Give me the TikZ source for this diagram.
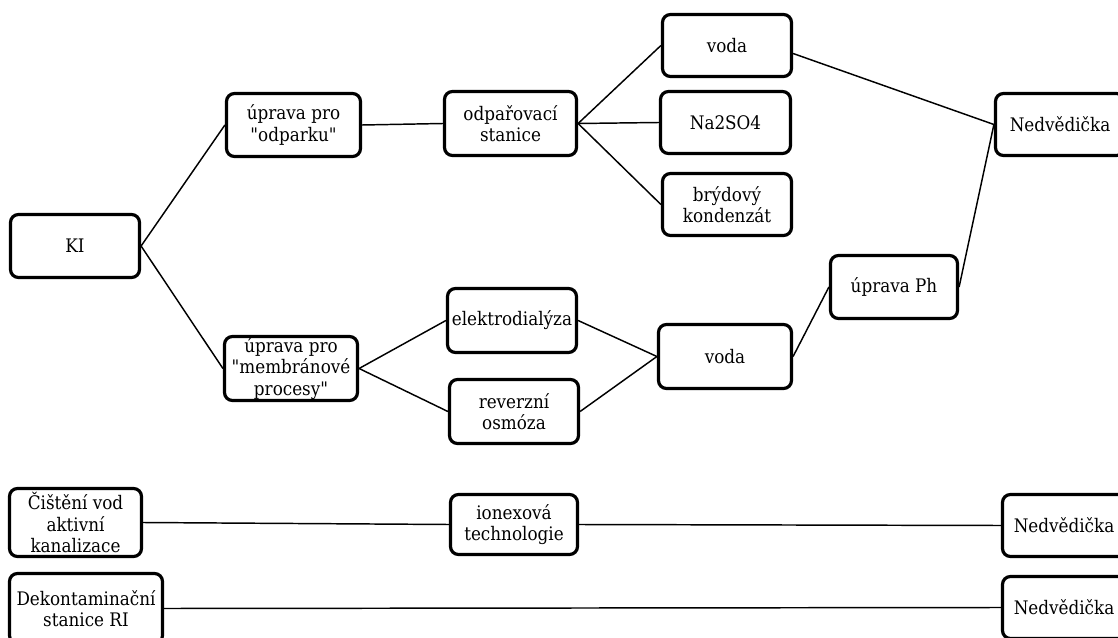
\documentclass[tikz,border=0pt]{standalone}
\usepackage{fontspec}
\setmainfont{DejaVu Serif Condensed}
\tikzset{
  box/.style={draw=black, line width=2.4pt, rounded corners=6pt, fill=white,
    align=center, inner sep=0pt, font=\fontsize{14}{16}\selectfont},
  conn/.style={draw=black, line width=1.1pt}
}
\newcommand\bx[6]{\node[box, minimum width=#4*0.75pt-2.25pt, minimum height=#5*0.75pt-2.25pt] (#1) at (#2,#3) {#6};}
\newcommand\q{\textquotedbl}
\begin{document}
\begin{tikzpicture}[x=0.75pt,y=-0.75pt]
\useasboundingbox (0,0) rectangle (1118,638);
\clip (0,0) rectangle (1118,638);
% nodes
\bx{KI}{75}{246}{132}{66}{KI}
\bx{upo}{293.5}{125}{137}{66}{úprava pro\\\q odparku\q}
\bx{upm}{291}{368.5}{136}{67}{úprava pro\\\q membránové\\procesy\q}
\bx{ods}{510.5}{123.5}{135}{67}{odpařovací\\stanice}
\bx{vodaA}{727}{45.5}{132}{65}{voda}
\bx{na}{725.5}{122.5}{133}{65}{Na2SO4}
\bx{bry}{727}{204.5}{132}{65}{brýdový\\kondenzát}
\bx{nedA}{1060}{124.5}{132}{65}{Nedvědička}
\bx{uph}{894}{287}{130}{66}{úprava Ph}
\bx{ele}{512}{320.5}{132}{67}{elektrodialýza}
\bx{rev}{514}{411.5}{132}{67}{reverzní\\osmóza}
\bx{vodaB}{725}{356.5}{136}{67}{voda}
\bx{cis}{75.5}{522.5}{135}{71}{Čištění vod\\aktivní\\kanalizace}
\bx{dek}{86}{608.5}{156}{73}{Dekontaminační\\stanice RI}
\bx{ion}{514}{524.5}{130}{63}{ionexová\\technologie}
\bx{nedB}{1064}{525.5}{126}{65}{Nedvědička}
\bx{nedC}{1064}{607.5}{126}{65}{Nedvědička}
\coordinate (vAout) at ([yshift=-6pt]vodaA.east);
% connectors
\draw[conn] (KI.east) -- (upo.west);
\draw[conn] (KI.east) -- (upm.west);
\draw[conn] (upo.east) -- (ods.west);
\draw[conn] (ods.east) -- (vodaA.west);
\draw[conn] (ods.east) -- (na.west);
\draw[conn] (ods.east) -- (bry.west);
\draw[conn] (vAout) -- (nedA.west);
\draw[conn] (uph.east) -- (nedA.west);
\draw[conn] (upm.east) -- (ele.west);
\draw[conn] (upm.east) -- (rev.west);
\draw[conn] (ele.east) -- (vodaB.west);
\draw[conn] (rev.east) -- (vodaB.west);
\draw[conn] (vodaB.east) -- (uph.west);
\draw[conn] (cis.east) -- (ion.west);
\draw[conn] (ion.east) -- (nedB.west);
\draw[conn] (dek.east) -- (nedC.west);
\end{tikzpicture}
\end{document}
